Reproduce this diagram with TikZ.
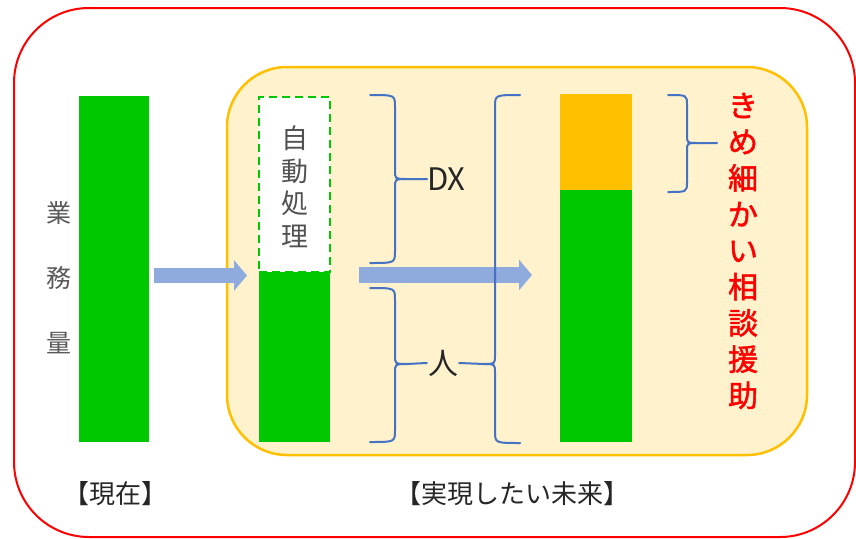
\documentclass[tikz,border=0pt]{standalone}
\usepackage{fontspec}
\setmainfont{Noto Sans CJK JP}
\newfontfamily\redjp[FakeBold=1.6]{Noto Sans CJK JP}
\usetikzlibrary{arrows.meta}
\definecolor{barG}{HTML}{00C800}
\definecolor{barO}{HTML}{FFC000}
\definecolor{panelF}{HTML}{FFF2CC}
\definecolor{panelD}{HTML}{FFC000}
\definecolor{arrowB}{HTML}{8FAADC}
\definecolor{braceB}{HTML}{4472C4}
\definecolor{txtG}{HTML}{595959}
\definecolor{txtD}{HTML}{262626}
\begin{document}
\begin{tikzpicture}[x=1pt,y=-1pt,
  outerbox/.style={draw=red,line width=2pt,rounded corners=75pt},
  panel/.style={draw=panelD,fill=panelF,line width=2.5pt,rounded corners=60pt},
  barbox/.style={inner sep=0pt,outer sep=0pt,anchor=north west},
  fatarrow/.style={draw=arrowB,line width=15.5pt,-{Triangle[width=30pt,length=13pt]}},
  bracepath/.style={draw=braceB,line width=2pt,line cap=round,line join=round},
  vtext/.style={align=center,inner sep=0pt},
  label/.style={text=txtD,font=\fontsize{26}{30}\selectfont,inner sep=0pt}]
\useasboundingbox (0,0) rectangle (856,538);
\path[outerbox] (14,8) rectangle (855,537);
\path[panel] (227,67) rectangle (807,455);

% bars
\node[barbox,fill=barG,minimum width=70pt,minimum height=346pt] (bar1) at (79,96) {};
\node[barbox,fill=white,draw=barG,line width=2.5pt,dash pattern=on 8pt off 5pt,minimum width=71pt,minimum height=175pt] (auto) at (259,97) {};
\node[barbox,fill=barG,minimum width=71pt,minimum height=170pt] (bar2) at (259,272) {};
\node[barbox,fill=barO,minimum width=72pt,minimum height=96pt] (bar3o) at (560,94) {};
\node[barbox,fill=barG,minimum width=72pt,minimum height=252pt] (bar3g) at (560,190) {};

% texts
\node[vtext,text=txtG,font=\fontsize{25}{65}\selectfont] (gyomu) at (59,278) {業\\務\\量};
\node[vtext,text=txtD!80,font=\fontsize{27}{32.5}\selectfont] (jido) at (295,187) {自\\動\\処\\理};
\node[vtext,text=red,font=\redjp\fontsize{30}{36.25}\selectfont] (kime) at (743,251) {き\\め\\細\\か\\い\\相\\談\\援\\助};
\node[text=txtD,font=\fontsize{31}{34}\selectfont,inner sep=0pt,anchor=west] (dx) at (427,179) {DX};
\node[text=txtD,font=\fontsize{30}{34}\selectfont,inner sep=1pt] (ren) at (443,363) {人};
\node[label] (now) at (115,494) {【現在】};
\node[label] (future) at (512,494) {【実現したい未来】};

% arrows
\coordinate (a1s) at (154,275.5);
\coordinate (a1e) at (247,275.5);
\coordinate (a2s) at (359,275);
\coordinate (a2e) at (532,275);
\draw[fatarrow] (a1s) -- (a1e);
\draw[fatarrow] (a2s) -- (a2e);

% braces
% DX brace
\draw[bracepath] (370,95) .. controls (395,95) .. (395,107) -- (395,170)
  .. controls (395,179) .. (406,179) -- (dx.west);
\draw[bracepath] (406,179) .. controls (395,179) .. (395,188) -- (395,251)
  .. controls (395,263) .. (370,263);
% left brace for 人
\draw[bracepath] (370,288) .. controls (395,288) .. (395,300) -- (395,355)
  .. controls (395,364) .. (406,364) -- (ren.west);
\draw[bracepath] (406,364) .. controls (395,364) .. (395,373) -- (395,430)
  .. controls (395,442) .. (370,442);
% big right-side brace (opening)
\draw[bracepath] (520,95) .. controls (495,95) .. (495,107) -- (495,355)
  .. controls (495,364) .. (484,364) -- (ren.east);
\draw[bracepath] (484,364) .. controls (495,364) .. (495,373) -- (495,431)
  .. controls (495,443) .. (520,443);
% small brace for kime
\coordinate (kimetip) at (717,143);
\draw[bracepath] (668,95) .. controls (687,95) .. (687,105) -- (687,135)
  .. controls (687,143) .. (697,143) -- (kimetip);
\draw[bracepath] (697,143) .. controls (687,143) .. (687,151) -- (687,182)
  .. controls (687,192) .. (668,192);
\end{tikzpicture}
\end{document}
